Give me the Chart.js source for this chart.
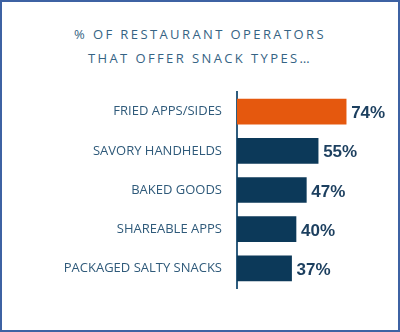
<!DOCTYPE html>
<html>
<head>
<meta charset="utf-8">
<script src="https://cdn.jsdelivr.net/npm/chart.js@4"></script>
<style>
  html, body { margin: 0; padding: 0; background: #fff; }
  .frame { position: relative; width: 400px; height: 332px; box-sizing: border-box; border: 2px solid #3d62a3; overflow: hidden; }
  .title { position: absolute; left: 0; right: 0; top: 20px; text-align: center; font-family: "Open Sans", sans-serif; font-size: 13px; line-height: 24px; letter-spacing: 2.4px; color: #356384; }
  canvas { position: absolute; left: -2px; top: -2px; }
</style>
</head>
<body>
<div class="frame">
  <div class="title">% OF RESTAURANT OPERATORS<br>THAT OFFER SNACK TYPES…</div>
  <canvas id="chart" width="400" height="332"></canvas>
</div>
<script>
const categories = ['FRIED APPS/SIDES', 'SAVORY HANDHELDS', 'BAKED GOODS', 'SHAREABLE APPS', 'PACKAGED SALTY SNACKS'];
const values = [74, 55, 47, 40, 37];
const barColors = ['#e5580e', '#0c3959', '#0c3959', '#0c3959', '#0c3959'];

// value labels to the right of each bar
const valueLabels = {
  id: 'valueLabels',
  afterDatasetsDraw(chart) {
    const ctx = chart.ctx;
    const meta = chart.getDatasetMeta(0);
    ctx.save();
    ctx.font = 'bold 17px "Liberation Sans", Arial, sans-serif';
    ctx.fillStyle = '#1c3f5f';
    ctx.textAlign = 'left';
    ctx.textBaseline = 'middle';
    meta.data.forEach((bar, i) => {
      ctx.fillText(values[i] + '%', bar.x + 5, bar.y + 2);
    });
    ctx.restore();
  }
};

new Chart(document.getElementById('chart'), {
  type: 'bar',
  data: {
    labels: categories,
    datasets: [{
      data: values,
      backgroundColor: barColors,
      borderWidth: 0,
      barThickness: 25,
    }]
  },
  options: {
    indexAxis: 'y',
    responsive: false,
    animation: false,
    layout: { padding: { top: 92, bottom: 44, left: 0, right: 45 } },
    plugins: { legend: { display: false }, tooltip: { enabled: false } },
    scales: {
      x: { display: false, min: 0, max: 80, grid: { display: false } },
      y: {
        afterFit: s => { s.width = 237; },
        grid: { display: false, drawTicks: false },
        border: { display: true, color: '#2e5c7e', width: 2 },
        ticks: { color: '#2f5a7a', padding: 15, font: { family: '"Open Sans", sans-serif', size: 13 } }
      }
    }
  },
  plugins: [valueLabels]
});
</script>
</body>
</html>
